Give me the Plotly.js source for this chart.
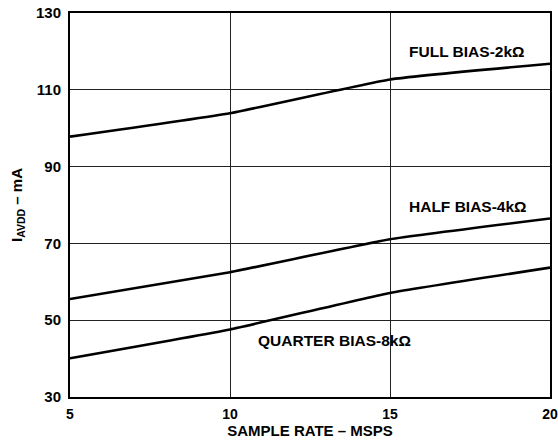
<!DOCTYPE html>
<html>
<head>
<meta charset="utf-8">
<script src="https://cdn.plot.ly/plotly-3.0.1.min.js"></script>
<style>html,body{margin:0;padding:0;background:#fff;}#chart{width:558px;height:442px;}</style>
</head>
<body>
<div id="chart"></div>
<script>
const sampleRate = [5, 10, 15, 20];
const fullBias = [97.8, 103.9, 112.7, 116.8];
const halfBias = [55.5, 62.5, 71.1, 76.5];
const quarterBias = [40.1, 47.6, 57.1, 63.7];
const seriesLabels = ["FULL BIAS-2kΩ", "HALF BIAS-4kΩ", "QUARTER BIAS-8kΩ"];
const labelX = [17.4, 17.45, 13.25];
const labelY = [120.1, 79.7, 44.8];
const xTicks = [5, 10, 15, 20];
const yTicks = [30, 50, 70, 90, 110, 130];

const fam = "Liberation Sans, Arial, Helvetica, sans-serif";
const tf = {family: fam, size: 15, color: "#000"};
const xtf = {family: fam, size: 14, color: "#000"};
const lineStyle = {color: "#000", width: 2.6, shape: "spline", smoothing: 0.35};

const traces = [fullBias, halfBias, quarterBias].map((ys, i) => ({
  x: sampleRate, y: ys, mode: "lines", type: "scatter", name: seriesLabels[i],
  line: lineStyle, hoverinfo: "skip"
}));

const annotations = seriesLabels.map((t, i) => ({
  x: labelX[i], y: labelY[i], xref: "x", yref: "y", text: "<b>" + t + "</b>",
  showarrow: false, font: {family: fam, size: 15.5, color: "#000"}
}));

const layout = {
  width: 558, height: 442,
  margin: {l: 70, r: 8, t: 13, b: 45},
  paper_bgcolor: "#fff", plot_bgcolor: "#fff",
  showlegend: false,
  font: tf,
  xaxis: {
    range: [5, 20], tickvals: xTicks, ticktext: xTicks.map(v => "<b>" + v + "</b>"),
    showgrid: true, gridcolor: "#222", gridwidth: 1,
    zeroline: false, showline: true, linecolor: "#000", linewidth: 2, mirror: true,
    ticks: "", ticklabelstandoff: 3, ticklabeloverflow: "allow", tickfont: xtf,
    title: {text: "<b>SAMPLE RATE – MSPS</b>", font: tf, standoff: 4}
  },
  yaxis: {
    range: [30, 130], tickvals: yTicks, ticktext: yTicks.map(v => "<b>" + v + "</b>"),
    showgrid: true, gridcolor: "#222", gridwidth: 1,
    zeroline: false, showline: true, linecolor: "#000", linewidth: 2, mirror: true,
    ticks: "", ticklabelstandoff: 4, tickfont: tf,
    title: {text: "<b>I<sub>AVDD</sub> – mA</b>", font: tf, standoff: 10}
  },
  annotations: annotations
};

Plotly.newPlot("chart", traces, layout, {staticPlot: true, displayModeBar: false});
</script>
</body>
</html>
